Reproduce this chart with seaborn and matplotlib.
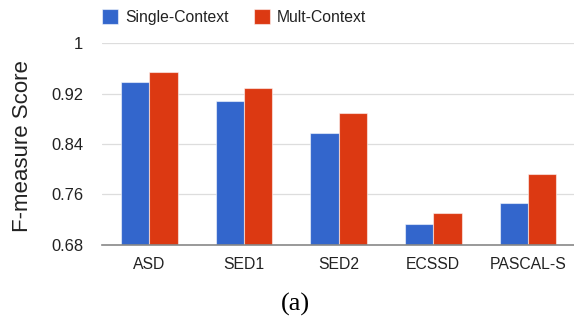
import pandas as pd
import numpy as np
import matplotlib
matplotlib.use("Agg")
import matplotlib.pyplot as plt
import seaborn as sns

# values
datasets = ["ASD", "SED1", "SED2", "ECSSD", "PASCAL-S"]
single_context = [0.939, 0.908, 0.857, 0.713, 0.747]
mult_context = [0.954, 0.929, 0.890, 0.731, 0.793]
methods = ["Single-Context", "Mult-Context"]
y_ticks = [0.68, 0.76, 0.84, 0.92, 1.0]
y_tick_labels = ["0.68", "0.76", "0.84", "0.92", "1"]

df = pd.DataFrame({
    "dataset": datasets * 2,
    "score": single_context + mult_context,
    "method": [methods[0]] * len(datasets) + [methods[1]] * len(datasets),
})

sns.set_theme(style="white")
plt.rcParams["font.family"] = ["Liberation Sans", "DejaVu Sans"]
text_color = "#222222"

fig = plt.figure(figsize=(5.74, 3.18), dpi=100)
ax = fig.add_axes([102 / 574, 73.3 / 318, 473.3 / 574, 201.4 / 318])

sns.barplot(data=df, x="dataset", y="score", hue="method",
            palette=["#3366CC", "#DC3912"], saturation=1, width=0.6, gap=0,
            edgecolor=(1, 1, 1, 0.55), linewidth=0.8, ax=ax)

ax.set_ylim(0.68, 1.0)
ax.set_xlim(-0.5, 4.5)
ax.set_yticks(y_ticks)
ax.set_yticklabels(y_tick_labels)
ax.yaxis.grid(True, color="#DDDDDD", linewidth=0.9)
ax.set_axisbelow(True)
ax.set_xlabel("")
ax.set_ylabel("")

for side in ["left", "right", "top"]:
    ax.spines[side].set_visible(False)
ax.spines["bottom"].set_color("#888888")
ax.spines["bottom"].set_linewidth(1.2)

ax.tick_params(axis="y", length=0, pad=13.5, labelsize=11.9, labelcolor=text_color)
ax.tick_params(axis="x", length=0, pad=9, labelsize=11.3, labelcolor=text_color)

# legend on top
handles, labels = ax.get_legend_handles_labels()
ax.legend(handles, labels, ncol=2, frameon=False, loc="center left",
          bbox_to_anchor=(102.3 / 574, 1 - 16.7 / 318), bbox_transform=fig.transFigure,
          borderaxespad=0, borderpad=0, handlelength=0.97, handleheight=1.12,
          handletextpad=0.47, columnspacing=1.66, fontsize=11.3, labelcolor=text_color)

fig.text(22.3 / 574, 1 - 145.8 / 318, "F-measure Score", rotation=90,
         ha="center", va="center", fontsize=16, color=text_color)
fig.text(295.3 / 574, 1 - 304.7 / 318, "(a)", ha="center", va="center",
         fontsize=19, family=["Liberation Serif", "DejaVu Serif"], color="black")

fig.savefig("out.png", dpi=100)
